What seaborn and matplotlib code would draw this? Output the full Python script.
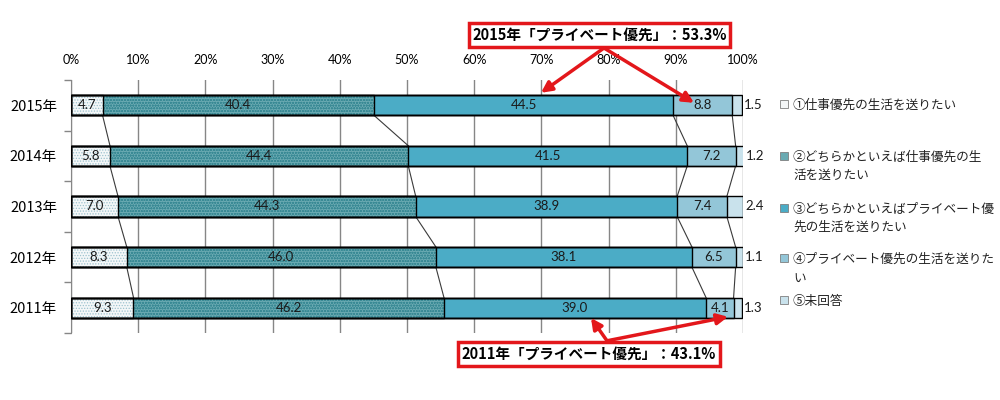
import matplotlib
matplotlib.use("Agg")
import matplotlib.pyplot as plt
import matplotlib.patches as mpatches
import numpy as np
import pandas as pd
import seaborn as sns

# ---- data ----
years = ["2015年", "2014年", "2013年", "2012年", "2011年"]
s1 = [4.7, 5.8, 7.0, 8.3, 9.3]        # ①仕事優先
s2 = [40.4, 44.4, 44.3, 46.0, 46.2]   # ②どちらかといえば仕事優先
s3 = [44.5, 41.5, 38.9, 38.1, 39.0]   # ③どちらかといえばプライベート優先
s4 = [8.8, 7.2, 7.4, 6.5, 4.1]        # ④プライベート優先
s5 = [1.5, 1.2, 2.4, 1.1, 1.3]        # ⑤未回答
series_labels = [
    "①仕事優先の生活を送りたい",
    "②どちらかといえば仕事優先の生\n活を送りたい",
    "③どちらかといえばプライベート優\n先の生活を送りたい",
    "④プライベート優先の生活を送りた\nい",
    "⑤未回答",
]
xticks = [0, 10, 20, 30, 40, 50, 60, 70, 80, 90, 100]
note_top = "2015年「プライベート優先」：53.3%"
note_bottom = "2011年「プライベート優先」：43.1%"

series = [s1, s2, s3, s4, s5]
faces = ["#F4F7F8", "#6AAAB2", "#4BACC6", "#93C6D8", "#C9E2EC"]
hatches = ["......", "oooooo", None, None, None]
hatch_cols = ["#9CC2CE", "#3A8A95", None, None, None]

vals = np.array(series)            # shape (5 series, 5 years)
cum = np.cumsum(vals, axis=0)      # cumulative ends
starts = cum - vals

plt.rcParams["font.family"] = ["Lato", "Noto Sans CJK JP", "DejaVu Sans"]
plt.rcParams["hatch.linewidth"] = 0.6

fig = plt.figure(figsize=(10, 4), dpi=100)
ax = fig.add_axes([0.071, 0.1675, 0.672, 0.6325])

# filled stacked bars (draw longest cumulative first)
for i in range(4, -1, -1):
    df = pd.DataFrame({"year": years, "v": cum[i]})
    n0 = len(ax.patches)
    sns.barplot(data=df, x="v", y="year", orient="h", color=faces[i],
                saturation=1, width=0.4, linewidth=0, ax=ax, zorder=3)
    if hatches[i]:
        for p in ax.patches[n0:]:
            p.set_hatch(hatches[i])
            p.set_edgecolor(hatch_cols[i])
            p.set_linewidth(0)

# black outlines of every segment boundary
for i in range(5):
    df = pd.DataFrame({"year": years, "v": cum[i]})
    sns.barplot(data=df, x="v", y="year", orient="h", color="black",
                fill=False, width=0.4, linewidth=1.0, ax=ax, zorder=4)

# series lines between consecutive bars
hh = 0.2
for b in range(4):
    for j in range(len(years) - 1):
        ax.plot([cum[b][j], cum[b][j + 1]], [j + hh, j + 1 - hh],
                color="#3A3A3A", lw=0.8, zorder=2)

# data labels
for i in range(5):
    for j in range(len(years)):
        if i < 4:
            ax.text(starts[i][j] + vals[i][j] / 2, j, f"{vals[i][j]:.1f}",
                    ha="center", va="center", fontsize=9.5, color="#1a1a1a",
                    zorder=6)
        else:
            ax.text(cum[i][j] + 0.3, j, f"{vals[i][j]:.1f}",
                    ha="left", va="center", fontsize=9.5, color="#1a1a1a",
                    zorder=6)

ax.set_xlim(0, 100)
ax.set_ylim(4.5, -0.5)
ax.set_xticks(xticks)
ax.set_xticklabels([f"{t}%" for t in xticks], fontsize=9)
ax.xaxis.tick_top()
ax.tick_params(axis="x", length=0, pad=10)
ax.set_yticks(range(len(years)))
ax.set_yticklabels(years, fontsize=10.5, family=["Noto Sans CJK JP"])
ax.tick_params(axis="y", length=0, pad=10)
ax.set_yticks(np.arange(-0.5, len(years), 1.0), minor=True)
ax.tick_params(axis="y", which="minor", length=5, color="#868686", width=1)
ax.set_xlabel("")
ax.set_ylabel("")
ax.grid(axis="x", color="#868686", lw=1, zorder=0)
ax.set_axisbelow(True)
for s in ["top", "right", "bottom"]:
    ax.spines[s].set_visible(False)
ax.spines["left"].set_color("#868686")

# legend (manual, Excel-like layout)
leg_y = [0.742, 0.612, 0.482, 0.355, 0.250]
for i in range(5):
    y = leg_y[i]
    r = mpatches.Rectangle((0.7795, y - 0.011), 0.008, 0.02,
                           transform=fig.transFigure, facecolor=faces[i],
                           edgecolor="#7F7F7F", lw=0.6)
    fig.add_artist(r)
    fig.text(0.793, y + 0.012, series_labels[i], ha="left", va="top",
             fontsize=9.1, linespacing=1.55, family=["Noto Sans CJK JP"],
             color="#222222")

# annotation boxes
box = dict(boxstyle="square,pad=0.25", fc="white", ec="#E3171B", lw=2.5)
fig.text(0.5995, 0.9125, note_top, ha="center", va="center", fontsize=10.5,
         fontweight="bold", family=["Noto Sans CJK JP"], bbox=box, zorder=10)
fig.text(0.589, 0.115, note_bottom, ha="center", va="center", fontsize=10.5,
         fontweight="bold", family=["Noto Sans CJK JP"], bbox=box, zorder=10)

arrow = dict(arrowstyle="-|>", color="#E3171B", lw=2.5, mutation_scale=16,
             shrinkA=0, shrinkB=0)
for tgt in [(0.541, 0.768), (0.694, 0.743)]:
    fig.add_artist(mpatches.FancyArrowPatch((0.604, 0.880), tgt,
                   transform=fig.transFigure, **arrow, zorder=9))
for tgt in [(0.591, 0.205), (0.728, 0.208)]:
    fig.add_artist(mpatches.FancyArrowPatch((0.607, 0.148), tgt,
                   transform=fig.transFigure, **arrow, zorder=9))

fig.savefig("out.png", dpi=100, facecolor="white")
